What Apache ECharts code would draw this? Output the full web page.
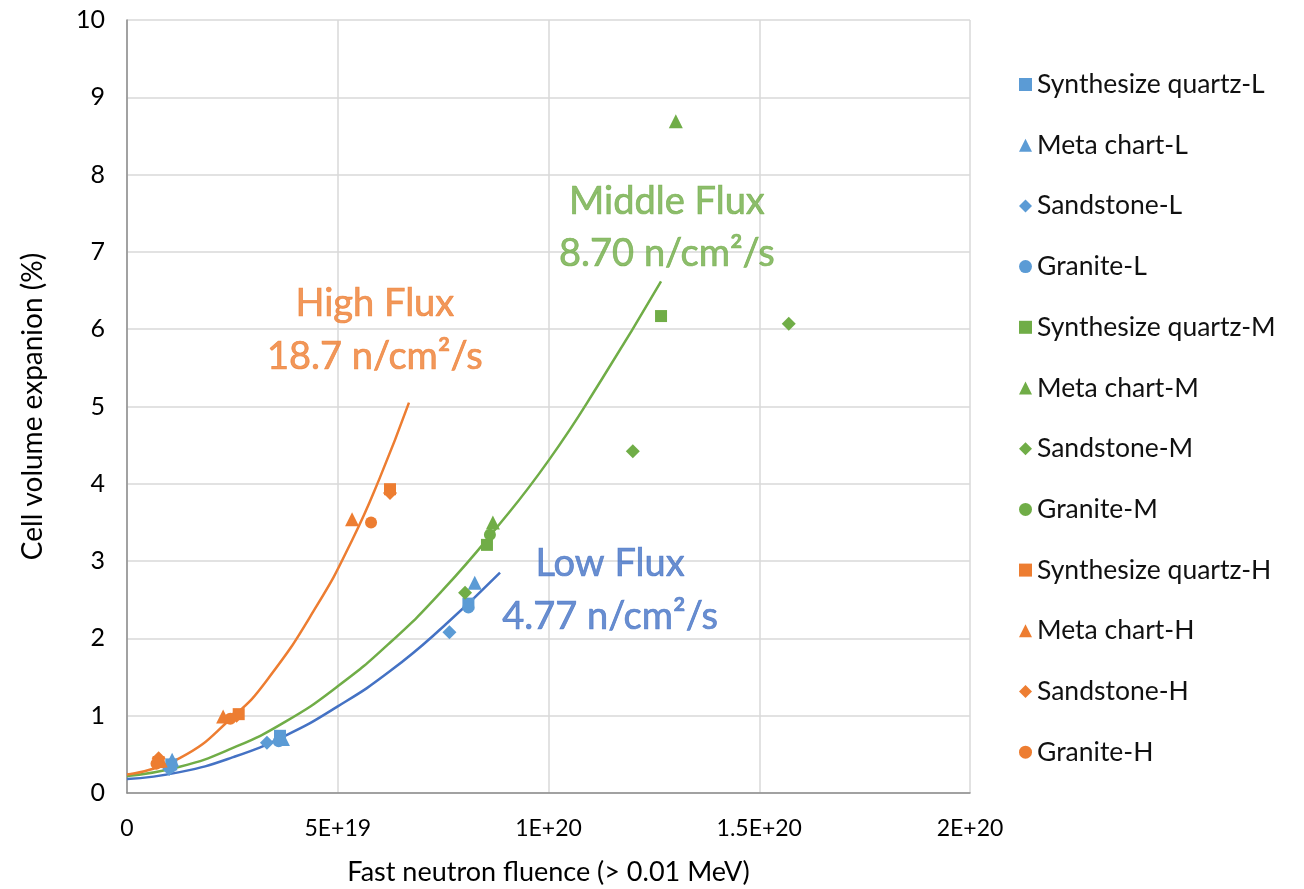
<!DOCTYPE html>
<html>
<head>
<meta charset="utf-8">
<script src="https://cdn.jsdelivr.net/npm/echarts@6/dist/echarts.min.js"></script>
<style>html,body{margin:0;padding:0;background:#fff}#c{width:1304px;height:889px}</style>
</head>
<body>
<div id="c"></div>
<script>
// x values in units of 1E19 n/cm2
var xTickLabels = ['0', '5E+19', '1E+20', '1.5E+20', '2E+20'];
var yTickLabels = ['0','1','2','3','4','5','6','7','8','9','10'];

var seriesNames = ['Synthesize quartz-L','Meta chart-L','Sandstone-L','Granite-L',
  'Synthesize quartz-M','Meta chart-M','Sandstone-M','Granite-M',
  'Synthesize quartz-H','Meta chart-H','Sandstone-H','Granite-H'];

var quartzL = [[1.05,0.37],[3.63,0.74],[8.1,2.45]];
var metaL = [[1.07,0.43],[3.7,0.70],[8.25,2.72]];
var sandL = [[1.0,0.31],[3.32,0.65],[7.65,2.08]];
var graniteL = [[1.05,0.34],[3.6,0.67],[8.1,2.40]];

var quartzM = [[8.54,3.21],[12.67,6.17]];
var metaM = [[8.68,3.5],[13.02,8.69]];
var sandM = [[8.02,2.59],[12.0,4.42],[15.7,6.07]];
var graniteM = [[8.61,3.34]];

var quartzH = [[0.75,0.40],[2.65,1.02],[6.24,3.93]];
var metaH = [[0.8,0.42],[2.28,0.99],[5.34,3.54]];
var sandH = [[0.75,0.45],[2.6,1.0],[6.24,3.88]];
var graniteH = [[0.7,0.38],[2.45,0.96],[5.79,3.5]];

// trend curves
var trendLow = [[0,0.18],[1.25,0.27],[2.5,0.46],[3.75,0.74],[5,1.12],[6.25,1.58],[7.5,2.15],[8.85,2.85]];
var trendMid = [[0,0.22],[1.25,0.34],[2.5,0.58],[3.75,0.92],[5,1.38],[6.25,1.95],[7.5,2.63],[8.75,3.42],[10,4.3],[11.25,5.34],[12.67,6.62]];
var trendHigh = [[0,0.24],[1.25,0.45],[2.5,0.98],[3.32,1.46],[4.5,2.42],[5.34,3.27],[6,4.08],[6.69,5.05]];

var annotations = [
  {text:'High Flux', pos:[5.88,6.33], color:'#ED7D31'},
  {text:'18.7 n/cm\u00b2/s', pos:[5.88,5.65], color:'#ED7D31'},
  {text:'Middle Flux', pos:[12.81,7.65], color:'#70AD47'},
  {text:'8.70 n/cm\u00b2/s', pos:[12.81,6.97], color:'#70AD47'},
  {text:'Low Flux', pos:[11.46,2.97], color:'#4472C4'},
  {text:'4.77 n/cm\u00b2/s', pos:[11.46,2.28], color:'#4472C4'}
];

var FONT = 'Lato, "Open Sans", sans-serif';
var cL = '#5B9BD5', cM = '#70AD47', cH = '#ED7D31';
var dataSets = [quartzL, metaL, sandL, graniteL, quartzM, metaM, sandM, graniteM, quartzH, metaH, sandH, graniteH];
var colors = [cL,cL,cL,cL,cM,cM,cM,cM,cH,cH,cH,cH];
var shapes = ['rect','triangle','diamond','circle'];
var sizes = [12,14,14,12];

var series = [];
function trend(d, c){
  return {type:'line', data:d, smooth:true, symbol:'none', silent:true,
    lineStyle:{color:c, width:2.5}, z:1};
}
series.push(trend(trendLow,'#4472C4'));
series.push(trend(trendMid,'#70AD47'));
series.push(trend(trendHigh,'#ED7D31'));
for (var i=0;i<12;i++){
  series.push({type:'scatter', name:seriesNames[i], data:dataSets[i],
    symbol:shapes[i%4], symbolSize:sizes[i%4], itemStyle:{color:colors[i], opacity:1}, z:3});
}
series.push({type:'scatter', silent:true, symbolSize:0,
  data: annotations.map(function(a){return {value:a.pos, label:{show:true, position:'inside', formatter:a.text, color:a.color,
    fontSize:38, fontFamily:FONT, textBorderColor:a.color, textBorderWidth:0.7}};}),
  z:5});

var chart = echarts.init(document.getElementById('c'), null, {renderer:'canvas'});
chart.setOption({
  animation:false,
  backgroundColor:'#fff',
  grid:{left:127, right:334, top:20, bottom:96, containLabel:false, outerBoundsMode:'none'},
  xAxis:{type:'value', min:0, max:20, interval:5,
    name:'Fast neutron fluence (> 0.01 MeV)', nameLocation:'middle', nameGap:66,
    nameTextStyle:{fontSize:27, color:'#000', fontFamily:FONT},
    axisLine:{show:true, onZero:false, lineStyle:{color:'#8c8c8c', width:1.5}},
    axisTick:{show:false},
    axisLabel:{fontSize:23, color:'#000', fontFamily:FONT, margin:24,
      formatter:function(v){return xTickLabels[Math.round(v/5)];}},
    splitLine:{show:true, lineStyle:{color:'#d9d9d9', width:1.5}}
  },
  yAxis:{type:'value', min:0, max:10, interval:1,
    name:'Cell volume expanion (%)', nameLocation:'middle', nameGap:80, nameRotate:90,
    nameTextStyle:{fontSize:28, color:'#000', fontFamily:FONT},
    axisLine:{show:true, lineStyle:{color:'#8c8c8c', width:1.5}},
    axisTick:{show:false},
    axisLabel:{fontSize:25, color:'#000', fontFamily:FONT, margin:22,
      formatter:function(v){return yTickLabels[Math.round(v)];}},
    splitLine:{show:true, lineStyle:{color:'#d9d9d9', width:1.5}}
  },
  legend:{orient:'vertical', left:1014, top:66, data:seriesNames,
    itemWidth:13, itemHeight:13, itemGap:33.7,
    textStyle:{fontSize:26.5, color:'#111', fontFamily:FONT, lineHeight:20}},
  series:series
});
</script>
</body>
</html>
